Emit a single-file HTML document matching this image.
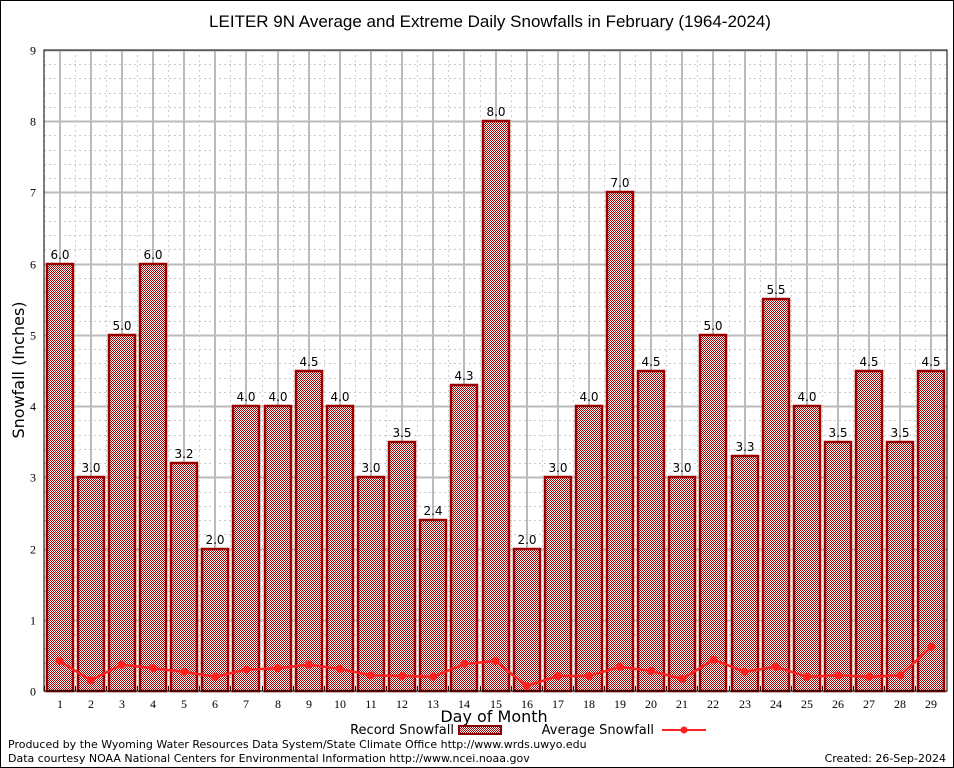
<!DOCTYPE html>
<html><head><meta charset="utf-8"><style>
body{margin:0;background:#fff;}
svg{display:block;font-family:"DejaVu Sans","Liberation Sans",sans-serif;}
</style></head><body>
<svg id="chart" width="954" height="768" viewBox="0 0 954 768">
<defs>
<pattern id="chk" x="0" y="0" width="2" height="2" patternUnits="userSpaceOnUse">
<rect width="2" height="2" fill="#fff" shape-rendering="crispEdges"/>
<rect x="0" y="0" width="1" height="1" fill="#a80000" shape-rendering="crispEdges"/>
<rect x="1" y="1" width="1" height="1" fill="#a80000" shape-rendering="crispEdges"/>
</pattern>
</defs>
<rect x="0.5" y="0.5" width="953" height="767" fill="#fff" stroke="#000"/>
<text x="490" y="27" text-anchor="middle" font-size="17" font-family="Liberation Sans, sans-serif">LEITER 9N Average and Extreme Daily Snowfalls in February (1964-2024)</text>
<g id="grid"></g>
<g id="bars"></g>
<g id="avg"></g>
<rect x="44" y="50" width="903" height="641" fill="none" stroke="#000"/>
<g id="axes" font-family="Liberation Serif, serif" font-size="12"></g>
<text x="24" y="370" text-anchor="middle" font-size="16" transform="rotate(-90 24 370)">Snowfall (Inches)</text>
<text x="494" y="722" text-anchor="middle" font-size="16">Day of Month</text>
<g>
<text x="454" y="734" text-anchor="end" font-size="13">Record Snowfall</text>
<rect x="459" y="726" width="42" height="8" fill="url(#chk)" stroke="#8b0000" stroke-width="2"/>
</g>
<g>
<text x="654" y="734" text-anchor="end" font-size="13">Average Snowfall</text>
<line x1="662" y1="730" x2="706" y2="730" stroke="#ff2020" stroke-width="2"/>
<circle cx="684" cy="730" r="3.5" fill="#ff2020"/>
</g>
<text x="8" y="748" font-size="11">Produced by the Wyoming Water Resources Data System/State Climate Office http://www.wrds.uwyo.edu</text>
<text x="8" y="762" font-size="11">Data courtesy NOAA National Centers for Environmental Information http://www.ncei.noaa.gov</text>
<text x="946" y="762" text-anchor="end" font-size="11">Created:  26-Sep-2024</text>
</svg>
<script>
const days=[1,2,3,4,5,6,7,8,9,10,11,12,13,14,15,16,17,18,19,20,21,22,23,24,25,26,27,28,29];
const recordSnow=[6.0,3.0,5.0,6.0,3.2,2.0,4.0,4.0,4.5,4.0,3.0,3.5,2.4,4.3,8.0,2.0,3.0,4.0,7.0,4.5,3.0,5.0,3.3,5.5,4.0,3.5,4.5,3.5,4.5];
const avgSnow=[0.42,0.15,0.37,0.32,0.27,0.2,0.3,0.32,0.37,0.31,0.22,0.21,0.2,0.38,0.42,0.07,0.21,0.21,0.34,0.28,0.17,0.44,0.27,0.34,0.2,0.22,0.2,0.22,0.62];
const yTicks=[0,1,2,3,4,5,6,7,8,9];
const X0=44,X1=947,Y0=691,Y1=50,YMAX=9;
const slot=(X1-X0)/days.length;
const xS=i=>X0+slot*(i+0.5);
const yS=v=>Y0-(v/YMAX)*(Y0-Y1);
const NS="http://www.w3.org/2000/svg";
function mk(t,a,p){const e=document.createElementNS(NS,t);for(const k in a)e.setAttribute(k,a[k]);p.appendChild(e);return e;}
const grid=document.getElementById('grid'),bars=document.getElementById('bars'),avg=document.getElementById('avg'),axes=document.getElementById('axes');
for(let v=0;v<=YMAX;v+=0.2){const y=Math.round(yS(v))+0.5;mk('line',{x1:X0,x2:X1,y1:y,y2:y,stroke:'#c8c8c8','stroke-dasharray':'2 3','stroke-width':1},grid);}
yTicks.forEach(v=>{const y=Math.round(yS(v))+0.5;
const g=mk('line',{x1:X0,x2:X1,y1:y,y2:y,stroke:'#bbb','stroke-width':2},grid);

const t=mk('text',{x:X0-8,y:y+4,'text-anchor':'end'},axes);t.textContent=v;
});
days.forEach((d,i)=>{const x=Math.round(xS(i));
mk('line',{x1:x-slot/2,x2:x-slot/2,y1:Y1,y2:Y0,stroke:'#ccc','stroke-dasharray':'2 3'},grid);
mk('line',{x1:x,x2:x,y1:Y1,y2:Y0,stroke:'#bbb','stroke-width':2},grid);
const yt=Math.round(yS(recordSnow[i]));
const b=mk('rect',{x:x-13,y:yt,width:26,height:Y0-yt,fill:'url(#chk)',stroke:'#9a0000','stroke-width':2.5},bars);

const lb=mk('text',{x:x,y:yt-5,'text-anchor':'middle','font-size':12},bars);lb.textContent=recordSnow[i].toFixed(1);

const t=mk('text',{x:x,y:Y0+17,'text-anchor':'middle'},axes);t.textContent=d;

mk('line',{x1:x-slot/2,x2:x-slot/2,y1:Y0,y2:Y0-5,stroke:'#000'},axes);});
mk('polyline',{points:avgSnow.map((v,i)=>xS(i)+','+yS(v)).join(' '),fill:'none',stroke:'#ff2020','stroke-width':2.5},avg);
avgSnow.forEach((v,i)=>{const c=mk('circle',{cx:xS(i),cy:yS(v),r:4,fill:'#ff2020'},avg);
});
</script>
</body></html>
